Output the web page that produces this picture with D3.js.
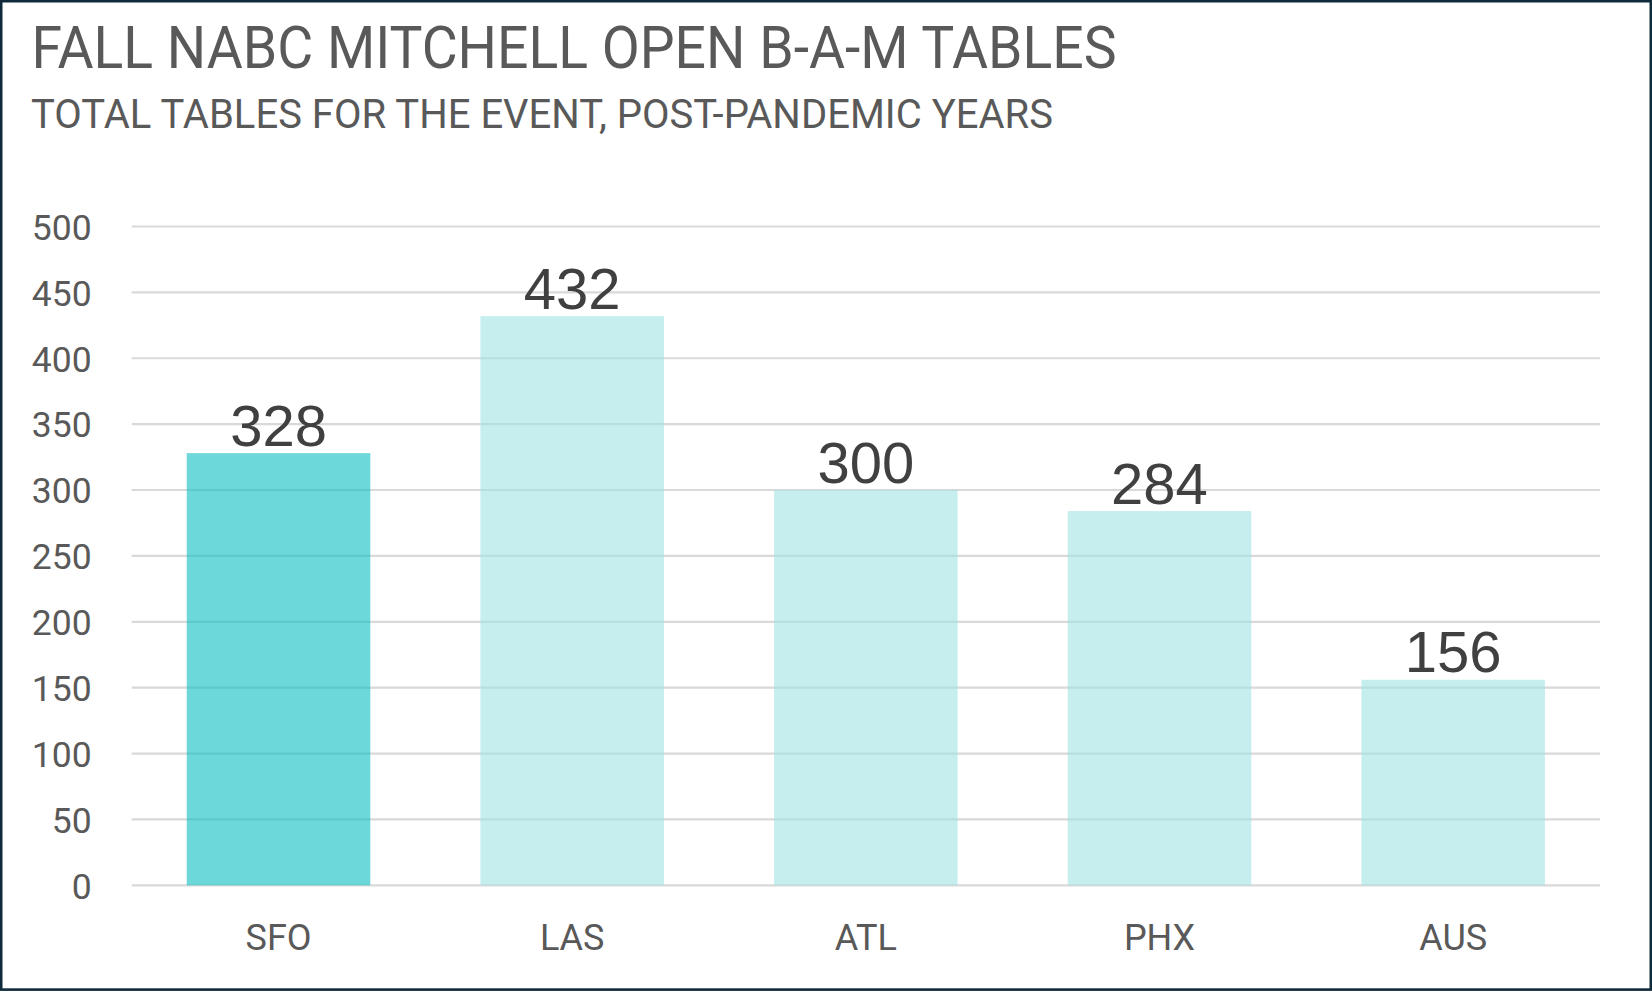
<!DOCTYPE html>
<html>
<head>
<meta charset="utf-8">
<script src="https://cdn.jsdelivr.net/npm/d3@7"></script>
<style>
  html, body { margin: 0; padding: 0; background: #fff; }
  svg { display: block; }
</style>
</head>
<body>
<svg id="chart" width="1652" height="992"></svg>
<script>
// ---- data ----
const categories = ["SFO", "LAS", "ATL", "PHX", "AUS"];
const tables = [328, 432, 300, 284, 156];
const highlighted = ["SFO"];
const yTicks = [0, 50, 100, 150, 200, 250, 300, 350, 400, 450, 500];
const titleText = "FALL NABC MITCHELL OPEN B-A-M TABLES";
const subtitleText = "TOTAL TABLES FOR THE EVENT, POST-PANDEMIC YEARS";

// ---- layout ----
const W = 1652, H = 992;
const plot = { left: 131.7, right: 1600, top: 226.5, bottom: 885.3 };

const svg = d3.select("#chart");

svg.append("rect")
  .attr("x", 0).attr("y", 0).attr("width", W).attr("height", H)
  .attr("fill", "#ffffff");

const x = d3.scaleBand()
  .domain(categories)
  .range([plot.left, plot.right])
  .paddingInner(0.375)
  .paddingOuter(0.1875);

const y = d3.scaleLinear()
  .domain([0, 500])
  .range([plot.bottom, plot.top]);

// title & subtitle
function fitText(sel, width) {
  sel.attr("textLength", width).attr("lengthAdjust", "spacingAndGlyphs");
}
const title = svg.append("text")
  .attr("x", 31.5).attr("y", 68.3)
  .attr("font-family", "Roboto, 'Liberation Sans', sans-serif")
  .attr("font-size", 58.5)
  .attr("fill", "#595959")
  .text(titleText);
fitText(title, 1085);

const subtitle = svg.append("text")
  .attr("x", 31).attr("y", 128.3)
  .attr("font-family", "Roboto, 'Liberation Sans', sans-serif")
  .attr("font-size", 40.8)
  .attr("fill", "#595959")
  .text(subtitleText);
fitText(subtitle, 1022);

// gridlines
const gy = svg.append("g").attr("transform", `translate(${plot.left},0)`);
gy.append("g")
  .selectAll("line")
  .data(yTicks)
  .join("line")
  .attr("x1", 0).attr("x2", plot.right - plot.left)
  .attr("y1", d => y(d)).attr("y2", d => y(d))
  .attr("stroke", "#d9d9d9")
  .attr("stroke-width", 2.2);

// y-axis tick labels
const yAxis = d3.axisLeft(y).tickValues(yTicks).tickSize(0).tickPadding(0);
const axisG = svg.append("g")
  .attr("transform", `translate(91.7,0)`)
  .call(yAxis);
axisG.select(".domain").remove();
axisG.selectAll("text")
  .attr("font-family", "Roboto, 'Liberation Sans', sans-serif")
  .attr("font-size", 35.5)
  .attr("fill", "#595959")
  .attr("x", 0)
  .attr("dy", "0.36em")
  .attr("text-anchor", "end");

// bars
const rows = categories.map((c, i) => ({ c, v: tables[i] }));
svg.append("g")
  .selectAll("rect")
  .data(rows)
  .join("rect")
  .attr("x", d => x(d.c))
  .attr("width", x.bandwidth())
  .attr("y", d => y(d.v))
  .attr("height", d => y(0) - y(d.v))
  .attr("fill", d => highlighted.includes(d.c) ? "rgb(12,190,193)" : "rgb(160,227,227)")
  .attr("fill-opacity", 0.6);

// data labels
svg.append("g")
  .selectAll("text")
  .data(rows)
  .join("text")
  .attr("x", d => x(d.c) + x.bandwidth() / 2)
  .attr("y", d => y(d.v) - 7.5)
  .attr("text-anchor", "middle")
  .attr("font-family", "'Liberation Sans', Arial, sans-serif")
  .attr("font-size", 58)
  .attr("fill", "#404040")
  .text(d => d.v);

// x-axis labels
const xAxis = d3.axisBottom(x).tickSize(0).tickPadding(0);
const xg = svg.append("g")
  .attr("transform", `translate(0,950)`)
  .call(xAxis);
xg.select(".domain").remove();
xg.selectAll("text")
  .attr("font-family", "Roboto, 'Liberation Sans', sans-serif")
  .attr("font-size", 36)
  .attr("fill", "#595959")
  .attr("y", 0)
  .attr("dy", 0);

// outer border
svg.append("rect")
  .attr("x", 1.2).attr("y", 1.2)
  .attr("width", W - 2.4).attr("height", 989.6 - 1.2)
  .attr("fill", "none")
  .attr("stroke", "#0e2a3b")
  .attr("stroke-width", 2.6);
</script>
</body>
</html>
